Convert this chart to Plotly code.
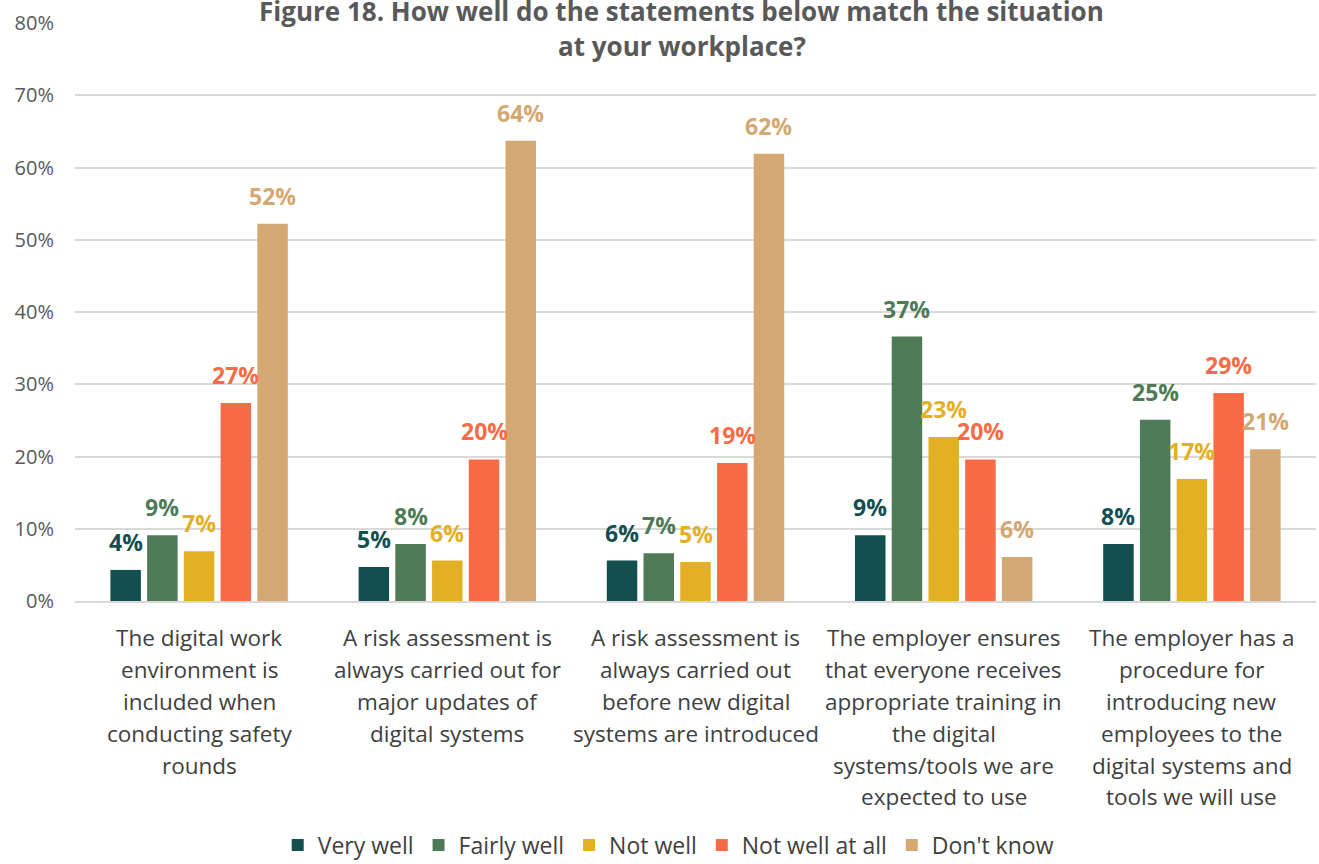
import plotly.graph_objects as go

categories = [
    "The digital work<br>environment is<br>included when<br>conducting safety<br>rounds",
    "A risk assessment is<br>always carried out for<br>major updates of<br>digital systems",
    "A risk assessment is<br>always carried out<br>before new digital<br>systems are introduced",
    "The employer ensures<br>that everyone receives<br>appropriate training in<br>the digital<br>systems/tools we are<br>expected to use",
    "The employer has a<br>procedure for<br>introducing new<br>employees to the<br>digital systems and<br>tools we will use",
]

series_names = ["Very well", "Fairly well", "Not well", "Not well at all", "Don't know"]
very_well = [4.3, 4.7, 5.6, 9.1, 7.9]
fairly_well = [9.1, 7.9, 6.6, 36.6, 25.1]
not_well = [6.9, 5.6, 5.4, 22.7, 16.9]
not_well_at_all = [27.4, 19.6, 19.1, 19.6, 28.8]
dont_know = [52.2, 63.7, 61.9, 6.1, 21.0]

series_values = [very_well, fairly_well, not_well, not_well_at_all, dont_know]
colors = ["#134F4F", "#4E7B56", "#E3AF25", "#F76C47", "#D3A872"]

y_ticks = [0, 10, 20, 30, 40, 50, 60, 70, 80]

W, H = 1319, 864
M_L, M_R, M_T, M_B = 75, 3, 23, 263
BARGAP, BARGROUPGAP = 0.26, 0.17
plot_w = W - M_L - M_R
plot_h = H - M_T - M_B

fig = go.Figure()
for name, vals, col in zip(series_names, series_values, colors):
    fig.add_trace(go.Bar(
        x=categories, y=vals, name=name,
        marker=dict(color=col, line=dict(width=0)),
        hovertemplate="%{y:.1f}%<extra>" + name + "</extra>",
    ))

# value labels above each bar, offset to the bar's slot within its group
n = len(series_names)
slot_px = plot_w / len(categories) * (1 - BARGAP) / n
for i, (vals, col) in enumerate(zip(series_values, colors)):
    for cat, v in zip(categories, vals):
        fig.add_annotation(
            x=cat, y=v, xref="x", yref="y",
            text=f"{round(v)}%", showarrow=False,
            xanchor="center", yanchor="bottom",
            xshift=(i - (n - 1) / 2) * slot_px, yshift=10,
            font=dict(family="Open Sans", size=23, color=col, weight="bold"),
        )

# multi-line category labels under the axis, with wider line spacing
LINE_GAP = 32
FIRST_LINE = 36
for cat in categories:
    for j, line in enumerate(cat.split("<br>")):
        fig.add_annotation(
            x=cat, xref="x", yref="paper",
            y=-(FIRST_LINE + LINE_GAP * j) / plot_h,
            text=line, showarrow=False,
            xanchor="center", yanchor="middle",
            font=dict(family="Open Sans", size=22.5, color="#404040"),
        )

# two-line chart title
title_font = dict(family="Open Sans", size=26, color="#595959", weight="bold")
fig.add_annotation(
    text="Figure 18. How well do the statements below match the situation",
    xref="paper", yref="paper", x=0.489, y=1 + 12 / plot_h,
    xanchor="center", yanchor="middle", showarrow=False, font=title_font,
)
fig.add_annotation(
    text="at your workplace?",
    xref="paper", yref="paper", x=0.489, y=1 - 23 / plot_h,
    xanchor="center", yanchor="middle", showarrow=False, font=title_font,
)

fig.update_layout(
    width=W, height=H,
    margin=dict(l=M_L, r=M_R, t=M_T, b=M_B, autoexpand=False),
    paper_bgcolor="white", plot_bgcolor="white",
    barmode="group", bargap=BARGAP, bargroupgap=BARGROUPGAP,
    font=dict(family="Open Sans", color="#404040"),
    showlegend=True,
    legend=dict(
        orientation="h", x=0.478, xanchor="center",
        y=-(244 / plot_h), yanchor="middle",
        font=dict(family="Open Sans", size=23, color="#404040"),
        itemwidth=30, tracegroupgap=0,
    ),
    xaxis=dict(
        showticklabels=False, automargin=False,
        showline=True, linecolor="#d9d9d9", linewidth=2,
        ticks="", showgrid=False,
    ),
    yaxis=dict(
        range=[0, 80], tickvals=y_ticks, automargin=False,
        ticktext=[f"{t}%" for t in y_ticks],
        tickfont=dict(family="Open Sans", size=20, color="#595959"),
        showgrid=True, gridcolor="#d9d9d9", gridwidth=1.5,
        zeroline=False, ticks="", ticklen=0, ticklabelstandoff=20,
    ),
)

fig.write_html("out.html")
